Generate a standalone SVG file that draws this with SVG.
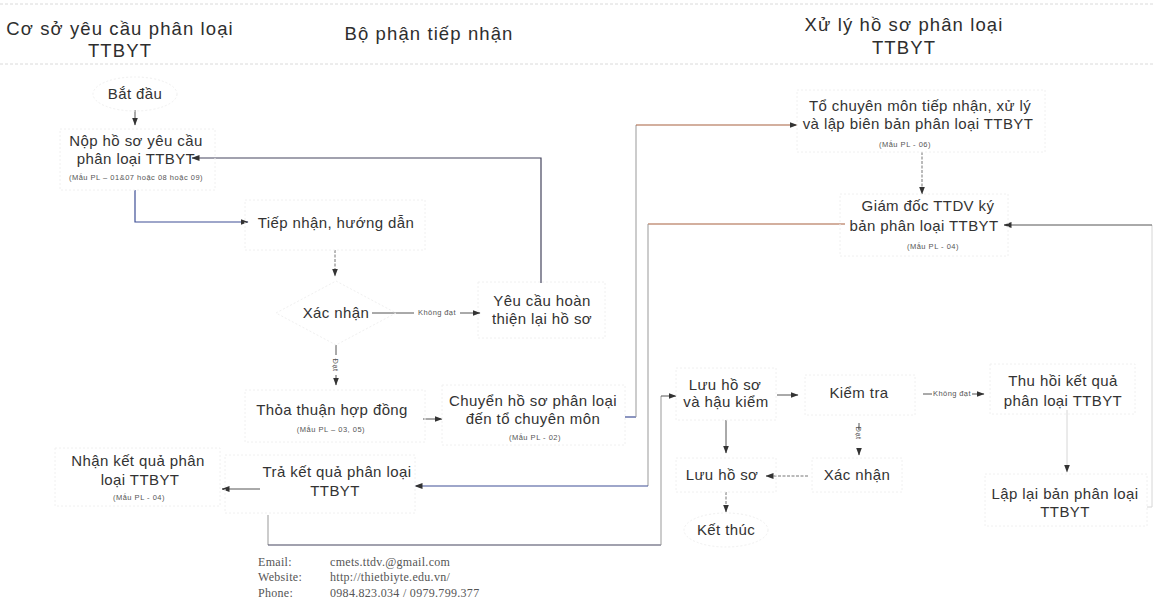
<svg xmlns="http://www.w3.org/2000/svg" width="1155" height="614" viewBox="0 0 1155 614">
<style>
.h{font-family:"Liberation Sans",Arial,sans-serif;font-size:18.5px;letter-spacing:1.1px;fill:#2e2e2e;text-anchor:middle}
.t{font-family:"Liberation Sans",Arial,sans-serif;font-size:15px;letter-spacing:0.4px;fill:#333;text-anchor:middle}
.s{font-family:"Liberation Sans",Arial,sans-serif;font-size:7.5px;letter-spacing:0.5px;fill:#555;text-anchor:middle}
.lb{font-family:"Liberation Sans",Arial,sans-serif;font-size:7.5px;letter-spacing:0.4px;fill:#555;text-anchor:middle}
.f{font-family:"Liberation Serif","Times New Roman",serif;font-size:12px;letter-spacing:0.3px;fill:#555}
.box{fill:none;stroke:#f0f0f0;stroke-width:1;stroke-dasharray:2 2}
.c{fill:none;stroke:#555;stroke-width:1}
.cd{fill:none;stroke:#777;stroke-width:1;stroke-dasharray:3 1.5}
.cb{fill:none;stroke:#3e4f96;stroke-width:1.2}
.co{fill:none;stroke:#a8613e;stroke-width:1.2}
.cn{fill:none;stroke:#45455e;stroke-width:1.2}
.cg{fill:none;stroke:#999;stroke-width:1}
.cf{fill:none;stroke:#d6d6d6;stroke-width:1}
.sep{stroke:#dadada;stroke-width:1;stroke-dasharray:3 2}
</style>
<defs>
<marker id="a" markerWidth="8" markerHeight="6" refX="7.5" refY="3" orient="auto" markerUnits="userSpaceOnUse"><path d="M0,0 L8,3 L0,6 z" fill="#333"/></marker>
</defs>
<rect width="1155" height="614" fill="#fff"/>
<line class="sep" x1="0" y1="4" x2="1155" y2="4"/>
<line class="sep" x1="0" y1="64" x2="1155" y2="64"/>
<g id="header-co-so"><text class="h" x="120" y="35">Cơ sở yêu cầu phân loại</text><text class="h" x="120" y="57">TTBYT</text></g>
<g id="header-bo-phan"><text class="h" x="429" y="40">Bộ phận tiếp nhận</text></g>
<g id="header-xu-ly"><text class="h" x="904" y="31">Xử lý hồ sơ phân loại</text><text class="h" x="904" y="54">TTBYT</text></g>

<g id="connectors">
<path class="c" d="M135,110 V125" marker-end="url(#a)"/>
<path class="cb" d="M135,190 V222 H248" marker-end="url(#a)"/>
<path class="cd" d="M335,250 V276" marker-end="url(#a)"/>
<path class="c" d="M372,313 H414"/><text class="lb" x="437" y="315">Không đạt</text><path class="c" d="M460,313 H480" marker-end="url(#a)"/>
<path class="cn" d="M541,283 V158 H192" marker-end="url(#a)"/>
<path class="c" d="M336,345 V355"/><text class="lb" transform="translate(333,365) rotate(90)" x="0" y="0">Đạt</text><path class="c" d="M336,375 V385" marker-end="url(#a)"/>
<path class="c" d="M423,419 H442" marker-end="url(#a)"/>
<path class="cb" d="M625,417 H636"/><path class="cg" d="M636,417 V125"/><path class="co" d="M636,125 H797" marker-end="url(#a)"/>
<path class="cd" d="M922,152 V194" marker-end="url(#a)"/>
<path class="cf" d="M1147,507 H1152 V225"/><path class="c" d="M1152,225 H1004" marker-end="url(#a)"/>
<path class="co" d="M845,224 H648"/><path class="cg" d="M648,224 V486"/><path class="cb" d="M648,486 H415" marker-end="url(#a)"/>
<path class="c" d="M260,489 H222" marker-end="url(#a)"/>
<path class="cg" d="M268,515 V545"/><path class="cn" d="M268,545 H661"/><path class="cg" d="M661,545 V396"/><path class="c" d="M661,396 H676" marker-end="url(#a)"/>
<path class="c" d="M777,395 H798" marker-end="url(#a)"/>
<path class="c" d="M923,394 H932"/><text class="lb" x="952" y="396">Không đạt</text><path class="c" d="M972,394 H984" marker-end="url(#a)"/>
<path class="cf" d="M1067,410 V472" marker-end="url(#a)"/>
<path class="c" d="M859,423 V430"/><text class="lb" transform="translate(856,433) rotate(90)" x="0" y="0">Đạt</text><path class="c" d="M859,449 V455" marker-end="url(#a)"/>
<path class="cd" d="M808,476 H766" marker-end="url(#a)"/>
<path class="c" d="M726,420 V453" marker-end="url(#a)"/>
<path class="cd" d="M726,492 V512" marker-end="url(#a)"/>
</g>

<g id="n-bat-dau"><ellipse class="box" cx="135" cy="94" rx="42" ry="17"/><text class="t" x="135" y="99">Bắt đầu</text></g>
<g id="n-nop-ho-so"><rect class="box" x="60" y="129" width="155" height="61"/><text class="t" x="136" y="146">Nộp hồ sơ yêu cầu</text><text class="t" x="136" y="164">phân loại TTBYT</text><text class="s" x="136" y="180">(Mẫu PL – 01&amp;07 hoặc 08 hoặc 09)</text></g>
<g id="n-tiep-nhan"><rect class="box" x="245" y="200" width="180" height="50"/><text class="t" x="336" y="228">Tiếp nhận, hướng dẫn</text></g>
<g id="n-xac-nhan-1"><path class="box" d="M276,313 L336,281 L396,313 L336,345 z"/><text class="t" x="336" y="318">Xác nhận</text></g>
<g id="n-yeu-cau"><rect class="box" x="478" y="282" width="127" height="56"/><text class="t" x="542" y="306">Yêu cầu hoàn</text><text class="t" x="542" y="324">thiện lại hồ sơ</text></g>
<g id="n-thoa-thuan"><rect class="box" x="245" y="390" width="180" height="52"/><text class="t" x="332" y="415">Thỏa thuận hợp đồng</text><text class="s" x="331" y="432">(Mẫu PL – 03, 05)</text></g>
<g id="n-chuyen"><rect class="box" x="442" y="385" width="183" height="60"/><text class="t" x="533" y="406">Chuyển hồ sơ phân loại</text><text class="t" x="533" y="424">đến tổ chuyên môn</text><text class="s" x="535" y="440">(Mẫu PL - 02)</text></g>
<g id="n-to-chuyen-mon"><rect class="box" x="797" y="90" width="248" height="62"/><text class="t" x="920" y="111">Tổ chuyên môn tiếp nhận, xử lý</text><text class="t" x="918" y="129">và lập biên bản phân loại TTBYT</text><text class="s" x="905" y="147">(Mẫu PL - 06)</text></g>
<g id="n-giam-doc"><rect class="box" x="840" y="194" width="168" height="62"/><text class="t" x="928" y="211">Giám đốc TTDV ký</text><text class="t" x="924" y="231">bản phân loại TTBYT</text><text class="s" x="933" y="249">(Mẫu PL - 04)</text></g>
<g id="n-nhan-ket-qua"><rect class="box" x="55" y="448" width="165" height="58"/><text class="t" x="138" y="466">Nhận kết quả phân</text><text class="t" x="140" y="485">loại TTBYT</text><text class="s" x="139" y="500">(Mẫu PL - 04)</text></g>
<g id="n-tra-ket-qua"><rect class="box" x="225" y="455" width="190" height="58"/><text class="t" x="337" y="477">Trả kết quả phân loại</text><text class="t" x="335" y="496">TTBYT</text></g>
<g id="n-luu-hau-kiem"><rect class="box" x="676" y="368" width="100" height="52"/><text class="t" x="725" y="390">Lưu hồ sơ</text><text class="t" x="726" y="407">và hậu kiểm</text></g>
<g id="n-kiem-tra"><rect class="box" x="805" y="375" width="110" height="40"/><text class="t" x="859" y="398">Kiểm tra</text></g>
<g id="n-thu-hoi"><rect class="box" x="990" y="364" width="145" height="50"/><text class="t" x="1063" y="386">Thu hồi kết quả</text><text class="t" x="1063" y="406">phân loại TTBYT</text></g>
<g id="n-xac-nhan-2"><rect class="box" x="812" y="458" width="90" height="34"/><text class="t" x="857" y="480">Xác nhận</text></g>
<g id="n-luu-ho-so"><rect class="box" x="676" y="458" width="100" height="34"/><text class="t" x="722" y="480">Lưu hồ sơ</text></g>
<g id="n-lap-lai"><rect class="box" x="985" y="474" width="162" height="52"/><text class="t" x="1065" y="499">Lập lại bản phân loại</text><text class="t" x="1065" y="517">TTBYT</text></g>
<g id="n-ket-thuc"><ellipse class="box" cx="726" cy="530" rx="42" ry="17"/><text class="t" x="726" y="535">Kết thúc</text></g>

<g id="footer">
<text class="f" x="258" y="566">Email:</text><text class="f" x="330" y="566">cmets.ttdv.@gmail.com</text>
<text class="f" x="258" y="581">Website:</text><text class="f" x="330" y="581">http://thietbiyte.edu.vn/</text>
<text class="f" x="258" y="597">Phone:</text><text class="f" x="330" y="597">0984.823.034 / 0979.799.377</text>
</g>
</svg>
